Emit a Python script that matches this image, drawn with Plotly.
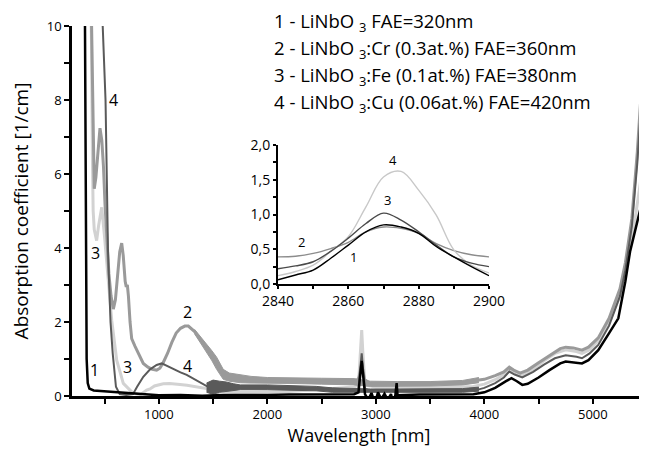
import plotly.graph_objects as go

# ---------------- main chart data ----------------
wl1 = [318, 322, 328, 335, 345, 360, 400, 500, 600, 700, 800, 900, 1000, 1200, 1400, 1600, 1800, 2000,
       2200, 2500, 2800, 2840, 2855, 2870, 2885, 2900, 2930, 2960, 2993, 3020, 3050, 3080, 3110, 3140,
       3160, 3180, 3192, 3200, 3400, 3700, 3900, 4000, 4100, 4200, 4250, 4300, 4350, 4400, 4500, 4600,
       4700, 4750, 4850, 4900, 4960, 5050, 5150, 5235, 5300, 5343, 5417, 5490]
a1 = [11, 8, 3, 1, 0.35, 0.2, 0.15, 0.13, 0.12, 0.1, 0.08, 0.04, 0.02, 0.03, 0.01, 0.03, 0.02, 0.03,
      0.04, 0.04, 0.05, 0.1, 0.5, 0.95, 0.5, 0.05, -0.1, 0.08, -0.19, 0.1, -0.08, 0.06, -0.1, 0.05,
      -0.19, 0.02, 0.35, 0.02, 0.04, 0.04, 0.05, 0.1, 0.22, 0.4, 0.48, 0.4, 0.3, 0.33, 0.5, 0.7,
      0.88, 0.93, 0.9, 0.88, 0.97, 1.24, 1.7, 2.1, 3.1, 3.9, 4.8, 5.7]

wl2 = [375, 381, 390, 400, 405, 420, 440, 458, 475, 490, 504, 520, 540, 560, 581, 600, 620, 640, 658,
       672, 690, 700, 710, 720, 735, 750, 780, 820, 857, 900, 940, 980, 1010, 1040, 1080, 1120, 1160,
       1200, 1240, 1272, 1300, 1330, 1380, 1440, 1490, 1533, 1594, 1650, 1750, 1850, 2000, 2200, 2500,
       2820, 2845, 2860, 2870, 2880, 2895, 2950, 3200, 3500, 3800, 3950, 4000, 4100, 4180, 4230, 4270,
       4330, 4400, 4500, 4600, 4700, 4750, 4820, 4900, 4960, 5050, 5150, 5250, 5300, 5360, 5410, 5450,
       5480]
a2 = [11, 10, 7.5, 5.8, 5.6, 5.9, 6.7, 7.24, 6.9, 6.2, 5.2, 4.2, 3.3, 2.7, 2.35, 2.6, 3.3, 3.9, 4.13,
      3.8, 3.1, 2.95, 3.0, 2.7, 2.0, 1.55, 1.35, 1.1, 0.88, 0.78, 0.72, 0.7, 0.75, 0.9, 1.15, 1.45, 1.7,
      1.83, 1.89, 1.89, 1.82, 1.74, 1.53, 1.31, 1.08, 0.88, 0.58, 0.51, 0.46, 0.44, 0.42, 0.42, 0.4,
      0.38, 0.5, 0.75, 0.9, 0.7, 0.45, 0.33, 0.32, 0.33, 0.36, 0.43, 0.45, 0.55, 0.65, 0.78, 0.7,
      0.62, 0.7, 0.9, 1.1, 1.28, 1.32, 1.3, 1.24, 1.32, 1.57, 2.1, 2.9, 3.6, 4.8, 6.6, 8.4,
      10.2]

# noise envelope of curve 2
wl2n = [1330, 1380, 1440, 1490, 1533, 1594, 1650, 1750, 1850, 2000, 2200, 2500, 2800, 2950, 3200,
        3500, 3800, 3950]
a2_hi = [1.8, 1.62, 1.42, 1.22, 1.05, 0.72, 0.62, 0.57, 0.53, 0.5, 0.5, 0.48, 0.47, 0.4, 0.39,
         0.39, 0.42, 0.5]
a2_lo = [1.68, 1.45, 1.2, 0.95, 0.72, 0.45, 0.4, 0.36, 0.35, 0.35, 0.34, 0.32, 0.3, 0.26, 0.26,
         0.27, 0.3, 0.36]

wl3 = [372, 380, 388, 395, 405, 427, 445, 474, 500, 530, 566, 612, 673, 762, 827, 888, 919, 960, 1011,
       1041, 1100, 1165, 1195, 1260, 1350, 1441, 1470, 1485, 1500, 1515, 1530, 1550, 1600, 1700, 1850,
       2000, 2200, 2400, 2600, 2800, 2840, 2860, 2870, 2880, 2900, 3000, 3300, 3600, 3900, 4000, 4100,
       4180, 4230, 4280, 4350, 4450, 4550, 4650, 4750, 4850, 4900, 4970, 5050, 5150, 5250, 5300, 5390,
       5450, 5490]
a3 = [11, 9.5, 6.5, 5.0, 4.5, 4.2, 4.6, 5.1, 4.3, 3.2, 2.05, 0.97, 0.34, 0.08, 0.03, 0.16, 0.19, 0.27,
      0.32, 0.33, 0.34, 0.33, 0.31, 0.29, 0.25, 0.2, 0.1, 0.22, -0.25, 0.2, -0.1, 0.15, 0.12, 0.1, 0.1,
      0.11, 0.12, 0.16, 0.21, 0.24, 0.3, 1.2, 1.78, 1.2, 0.3, 0.24, 0.23, 0.23, 0.26, 0.32, 0.44,
      0.58, 0.7, 0.64, 0.56, 0.72, 0.95, 1.15, 1.25, 1.2, 1.15, 1.25, 1.5, 2.0, 2.7, 3.3, 4.8,
      6.0, 7.1]

wl4 = [478, 483, 509, 532, 555, 575, 605, 640, 700, 762, 800, 857, 920, 980, 1027, 1080, 1134, 1200,
       1257, 1350, 1441, 1500, 1600, 1750, 2000, 2300, 2450, 2600, 2800, 2840, 2860, 2870, 2880, 2900,
       2950, 3200, 3500, 3800, 3950, 4000, 4100, 4180, 4230, 4280, 4350, 4450, 4550, 4650, 4750, 4850,
       4900, 4970, 5050, 5150, 5250, 5300, 5360, 5410, 5455, 5485]
a4 = [11, 10, 8, 3.9, 2.0, 1.16, 0.25, 0.05, 0.03, 0.05, 0.25, 0.52, 0.72, 0.84, 0.88, 0.8, 0.72, 0.64,
      0.57, 0.42, 0.27, 0.24, 0.25, 0.24, 0.23, 0.22, 0.2, 0.16, 0.15, 0.2, 0.8, 1.15, 0.8, 0.2,
      0.14, 0.13, 0.13, 0.15, 0.18, 0.22, 0.35, 0.5, 0.66, 0.58, 0.5, 0.65, 0.85, 1.02, 1.1, 1.06,
      1.02, 1.15, 1.38, 1.9, 2.7, 3.4, 4.6, 6.3, 8.3, 10.2]

# noise envelope of curve 4
wl4n = [1440, 1500, 1560, 1620, 1690, 1750, 2000, 2300, 2450, 2600, 2800, 2950, 3200, 3500, 3800, 3950]
a4_hi = [0.35, 0.43, 0.4, 0.38, 0.33, 0.3, 0.3, 0.28, 0.26, 0.22, 0.2, 0.19, 0.19, 0.19, 0.2, 0.24]
a4_lo = [0.1, 0.05, 0.1, 0.12, 0.15, 0.17, 0.17, 0.16, 0.14, 0.1, 0.1, 0.08, 0.08, 0.08, 0.1, 0.13]

# ---------------- inset data ----------------
wl_in = [2840, 2845, 2850, 2855, 2860, 2865, 2870, 2875, 2880, 2885, 2890, 2895, 2900]
i1 = [0.06, 0.13, 0.2, 0.37, 0.56, 0.75, 0.85, 0.82, 0.73, 0.54, 0.39, 0.25, 0.12]
i2 = [0.39, 0.4, 0.44, 0.51, 0.6, 0.75, 0.82, 0.8, 0.73, 0.58, 0.48, 0.42, 0.39]
i3 = [0.22, 0.26, 0.32, 0.47, 0.66, 0.87, 1.02, 0.92, 0.75, 0.56, 0.39, 0.3, 0.25]
i4 = [0.12, 0.18, 0.27, 0.47, 0.68, 1.11, 1.54, 1.62, 1.35, 0.99, 0.49, 0.27, 0.16]

legend_lines = [
    "1 - LiNbO <sub>3</sub> FAE=320nm",
    "2 - LiNbO <sub>3</sub>:Cr (0.3at.%) FAE=360nm",
    "3 - LiNbO <sub>3</sub>:Fe (0.1at.%) FAE=380nm",
    "4 - LiNbO <sub>3</sub>:Cu (0.06at.%) FAE=420nm",
]

C1, C2, C3, C4 = "#000000", "#9a9a9a", "#d2d2d2", "#5a5a5a"
FONT = "Open Sans"

fig = go.Figure()
fig.add_trace(go.Scatter(x=wl3, y=a3, mode="lines", line=dict(color=C3, width=3)))
fig.add_trace(go.Scatter(x=wl2, y=a2, mode="lines", line=dict(color=C2, width=3)))
fig.add_trace(go.Scatter(x=wl2n, y=a2_lo, mode="lines", line=dict(color=C2, width=1)))
fig.add_trace(go.Scatter(x=wl2n, y=a2_hi, mode="lines", line=dict(color=C2, width=1),
                         fill="tonexty", fillcolor=C2))
fig.add_trace(go.Scatter(x=wl4, y=a4, mode="lines", line=dict(color=C4, width=2)))
fig.add_trace(go.Scatter(x=wl4n, y=a4_lo, mode="lines", line=dict(color=C4, width=1)))
fig.add_trace(go.Scatter(x=wl4n, y=a4_hi, mode="lines", line=dict(color=C4, width=1),
                         fill="tonexty", fillcolor=C4))
fig.add_trace(go.Scatter(x=wl1, y=a1, mode="lines", line=dict(color=C1, width=2.5)))

fig.add_trace(go.Scatter(x=wl_in, y=i2, mode="lines", line=dict(color="#8c8c8c", width=1.4, shape="spline"), xaxis="x2", yaxis="y2"))
fig.add_trace(go.Scatter(x=wl_in, y=i4, mode="lines", line=dict(color="#c8c8c8", width=1.4, shape="spline"), xaxis="x2", yaxis="y2"))
fig.add_trace(go.Scatter(x=wl_in, y=i3, mode="lines", line=dict(color="#4a4a4a", width=1.4, shape="spline"), xaxis="x2", yaxis="y2"))
fig.add_trace(go.Scatter(x=wl_in, y=i1, mode="lines", line=dict(color="#000000", width=1.4, shape="spline"), xaxis="x2", yaxis="y2"))

ann = []
# series labels in main plot
for (x, y, t) in [(403, 0.7, "1"), (421, 3.86, "3"), (578, 8.0, "4"), (716, 0.78, "3"),
                  (1269, 2.27, "2"), (1269, 0.81, "4")]:
    ann.append(dict(x=x, y=y, xref="x", yref="y", text=t, showarrow=False,
                    font=dict(size=16, color="#000", family=FONT)))
# inset labels
for (x, y, t) in [(2872.7, 1.79, "4"), (2871, 1.21, "3"), (2846.6, 0.61, "2"), (2861.6, 0.39, "1")]:
    ann.append(dict(x=x, y=y, xref="x2", yref="y2", text=t, showarrow=False,
                    font=dict(size=13, color="#000", family=FONT)))
# legend text block
for k, t in enumerate(legend_lines):
    ypx = 22 + k * 27.0
    ann.append(dict(x=(272 - 72) / 574, y=(396 - ypx) / 370, xref="paper", yref="paper",
                    xanchor="left", yanchor="middle", text=t, showarrow=False,
                    font=dict(size=18.5, color="#000", family=FONT)))

# page body has an 8px margin, so the figure is sized/offset to compensate
fig.update_layout(
    width=639, height=451,
    margin=dict(l=64, r=1, t=18, b=63, autoexpand=False),
    plot_bgcolor="white", paper_bgcolor="white",
    showlegend=False,
    separators=", ",
    font=dict(family=FONT, color="#000"),
    xaxis=dict(range=[200, 5490], showline=True, linecolor="#000", linewidth=2.5,
               ticks="outside", ticklen=5, tickwidth=2, tickcolor="#000", automargin=False,
               tickvals=[1000, 2000, 3000, 4000, 5000],
               minor=dict(tickvals=[500, 1500, 2500, 3500, 4500], ticks="outside", ticklen=5,
                          tickwidth=2, tickcolor="#000"),
               showgrid=False, zeroline=False, tickfont=dict(size=13),
               title=dict(text="Wavelength [nm]", font=dict(size=18), standoff=8)),
    yaxis=dict(range=[0, 10], showline=True, linecolor="#000", linewidth=2.5,
               ticks="outside", ticklen=5, tickwidth=2, tickcolor="#000", automargin=False,
               tickvals=[0, 2, 4, 6, 8, 10],
               minor=dict(tickvals=[1, 3, 5, 7, 9], ticks="outside", ticklen=5, tickwidth=2,
                          tickcolor="#000"),
               showgrid=False, zeroline=False, tickfont=dict(size=13),
               title=dict(text="Absorption coefficient [1/cm]", font=dict(size=19), standoff=14)),
    xaxis2=dict(domain=[(278 - 72) / 574, (489 - 72) / 574], anchor="y2", range=[2840, 2900],
                showline=True, linecolor="#000", linewidth=2, ticks="outside", ticklen=3,
                tickwidth=2, tickcolor="#000", tickvals=[2840, 2860, 2880, 2900], automargin=False,
                minor=dict(tickvals=[2850, 2870, 2890], ticks="outside", ticklen=3, tickwidth=2,
                           tickcolor="#000"),
                showgrid=False, zeroline=False, tickfont=dict(size=14), ticklabelstandoff=0),
    yaxis2=dict(domain=[(396 - 284) / 370, (396 - 145) / 370], anchor="x2", range=[0, 2],
                showline=True, linecolor="#000", linewidth=2, ticks="outside", ticklen=3,
                tickwidth=2, tickcolor="#000", tickvals=[0, 0.5, 1, 1.5, 2], tickformat=".1f",
                automargin=False,
                minor=dict(tickvals=[0.25, 0.75, 1.25, 1.75], ticks="outside", ticklen=3,
                           tickwidth=2, tickcolor="#000"),
                showgrid=False, zeroline=False, tickfont=dict(size=14)),
    annotations=ann,
)

fig.write_html("out.html")
